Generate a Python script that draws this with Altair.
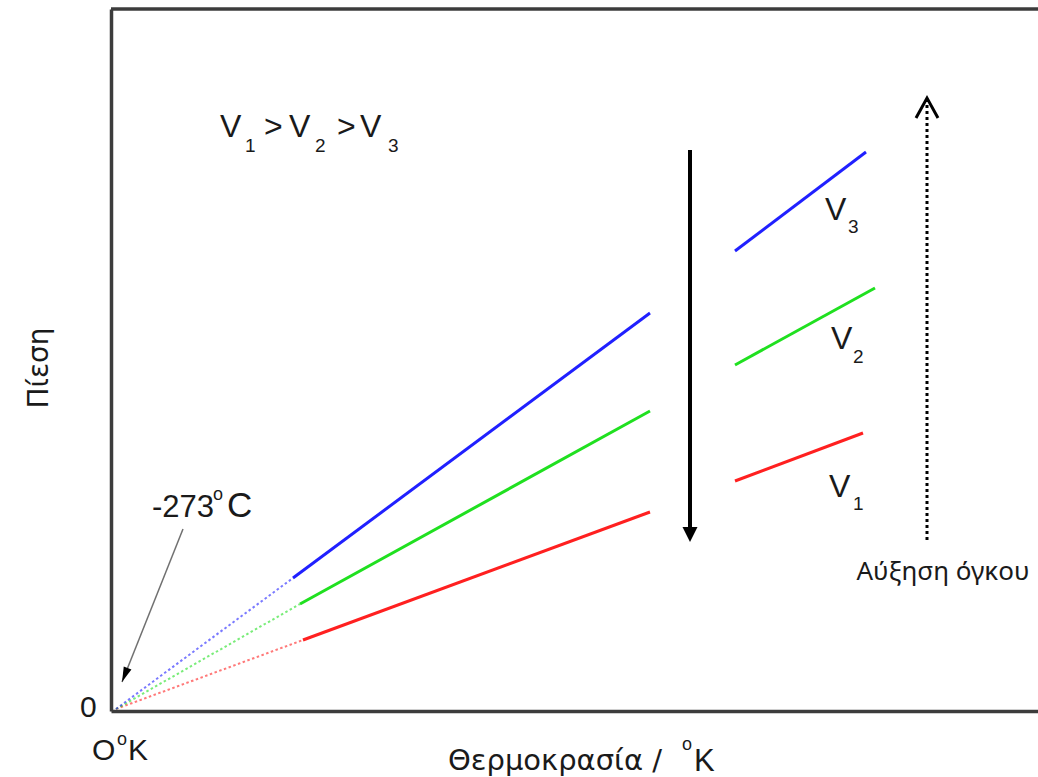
import altair as alt
import pandas as pd

# ---------------- data (temperature T from 0 K, pressure P from 0) ----------------
series = ["V1", "V2", "V3"]
colors = ["#ff2020", "#20e020", "#2020ff"]
dot_end_t = [187, 184, 177]
dot_end_p = [69, 105, 131]
seg1_end_t = [534, 534, 534]
seg1_end_p = [197, 298, 396]
seg2_start_t = [619, 619, 619]
seg2_start_p = [228, 344, 458]
seg2_end_t = [747, 759, 750]
seg2_end_p = [276, 421, 557]

# arrows
down_arrow_t = [574, 574]
down_arrow_p = [559, 180]
down_head = (574, 174.5)
up_arrow_t = [811, 811]
up_arrow_p = [169, 609]
up_head = (811, 601)
note_arrow_t = [67, 6]
note_arrow_p = [180, 27]
note_head = (8.8, 34)
note_head_angle = 201.8

# text labels: (text, T, P, size)
arial_texts = ["V", "1", ">", "V", "2", ">", "V", "3",
               "V", "3", "V", "2", "V", "1",
               "-273", "o", "C", "0", "O", "o", "K", "o", "K"]
arial_t = [104, 129, 148, 173, 199, 221, 244, 272,
           709, 732, 715, 737, 713, 737,
           36, 97, 111, -36, -24, 1, 12, 566, 578]
arial_p = [572, 557, 572, 572, 557, 572, 572, 557,
           489, 476, 360, 346, 212, 199,
           192, 209, 192, -8, -51, -36, -51, -41, -62]
arial_size = [32, 19, 32, 32, 19, 32, 32, 19,
              32, 19, 32, 19, 32, 19,
              31, 18, 35, 30, 30, 18, 30, 18, 31]

greek_title = "Θερμοκρασία /"
greek_title_pos = (332, -61)
y_title = "Πίεση"
y_title_pos = (-76, 341)
vol_label = "Αύξηση όγκου"
vol_label_pos = (827, 129)

# ---------------- tables ----------------
rows = []
for i, s in enumerate(series):
    rows += [
        dict(series=s, seg=s + "d", style="dotted", T=0, P=0),
        dict(series=s, seg=s + "d", style="dotted", T=dot_end_t[i], P=dot_end_p[i]),
        dict(series=s, seg=s + "a", style="solid", T=dot_end_t[i], P=dot_end_p[i]),
        dict(series=s, seg=s + "a", style="solid", T=seg1_end_t[i], P=seg1_end_p[i]),
        dict(series=s, seg=s + "b", style="solid", T=seg2_start_t[i], P=seg2_start_p[i]),
        dict(series=s, seg=s + "b", style="solid", T=seg2_end_t[i], P=seg2_end_p[i]),
    ]
lines = pd.DataFrame(rows)

xs = alt.Scale(domain=[-5, 922], nice=False, zero=False)
ys = alt.Scale(domain=[-2, 700], nice=False, zero=False)
cs = alt.Scale(domain=series, range=colors)

X = alt.X("T:Q", scale=xs, axis=alt.Axis(labels=False, ticks=False, grid=False, title=None,
                                          domainColor="#3c3c3c", domainWidth=3.5))
Y = alt.Y("P:Q", scale=ys, axis=alt.Axis(labels=False, ticks=False, grid=False, title=None,
                                          domainColor="#3c3c3c", domainWidth=3.5))

base = alt.Chart(lines)
dotted = base.transform_filter(alt.datum.style == "dotted").mark_line(
    strokeWidth=2, strokeDash=[2.5, 2.5], opacity=0.6).encode(
    x=X, y=Y, color=alt.Color("series:N", scale=cs, legend=None), detail="seg:N")
solid = base.transform_filter(alt.datum.style == "solid").mark_line(
    strokeWidth=3).encode(
    x=X, y=Y, color=alt.Color("series:N", scale=cs, legend=None), detail="seg:N")

top_rule = alt.Chart(pd.DataFrame({"P": [700]})).mark_rule(
    color="#3c3c3c", strokeWidth=3.5).encode(y=alt.Y("P:Q", scale=ys))

down_line = alt.Chart(pd.DataFrame({"T": down_arrow_t, "P": down_arrow_p})).mark_line(
    color="black", strokeWidth=4).encode(x=X, y=Y)
down_tri = alt.Chart(pd.DataFrame({"T": [down_head[0]], "P": [down_head[1]]})).mark_point(
    shape="M -1 -1 L 1 -1 L 0 1 Z", filled=True, color="black", size=225, opacity=1).encode(x=X, y=Y)

up_line = alt.Chart(pd.DataFrame({"T": up_arrow_t, "P": up_arrow_p})).mark_line(
    color="black", strokeWidth=3, strokeDash=[3, 3]).encode(x=X, y=Y)
up_head_m = alt.Chart(pd.DataFrame({"T": [up_head[0]], "P": [up_head[1]]})).mark_point(
    shape="M -1 0.9 L 0 -0.9 L 1 0.9", filled=False, color="black", strokeWidth=3,
    size=484, opacity=1).encode(x=X, y=Y)

note_line = alt.Chart(pd.DataFrame({"T": note_arrow_t, "P": note_arrow_p})).mark_line(
    color="#707070", strokeWidth=1.5).encode(x=X, y=Y)
note_tri = alt.Chart(pd.DataFrame({"T": [note_head[0]], "P": [note_head[1]]})).mark_point(
    shape="M 0 -1 L 0.55 1 L -0.55 1 Z", filled=True, color="black", size=225,
    angle=note_head_angle, opacity=1).encode(x=X, y=Y)

txt = pd.DataFrame({"text": arial_texts, "T": arial_t, "P": arial_p, "size": arial_size})
arial = alt.Chart(txt).mark_text(font="Liberation Sans", align="left", baseline="alphabetic",
                                 color="#1a1a1a").encode(
    x=X, y=Y, text="text:N", size=alt.Size("size:Q", scale=None))

xtitle = alt.Chart(pd.DataFrame({"text": [greek_title], "T": [greek_title_pos[0]],
                                 "P": [greek_title_pos[1]]})).mark_text(
    font="DejaVu Sans", fontSize=29, align="left", baseline="alphabetic", color="#1a1a1a").encode(
    x=X, y=Y, text="text:N")
ytitle = alt.Chart(pd.DataFrame({"text": [y_title], "T": [y_title_pos[0]],
                                 "P": [y_title_pos[1]]})).mark_text(
    font="DejaVu Sans", fontSize=28, align="center", baseline="middle", angle=270,
    color="#1a1a1a").encode(x=X, y=Y, text="text:N")
vol = alt.Chart(pd.DataFrame({"text": [vol_label], "T": [vol_label_pos[0]],
                              "P": [vol_label_pos[1]]})).mark_text(
    font="Noto Sans", fontSize=26, align="center", baseline="alphabetic", color="#1a1a1a").encode(
    x=X, y=Y, text="text:N")

chart = alt.layer(
    top_rule, dotted, solid, down_line, down_tri, up_line, up_head_m,
    note_line, note_tri, arial, xtitle, ytitle, vol
).properties(
    width=927, height=702,
    autosize=alt.AutoSizeParams(type="none"),
    padding={"left": 111, "top": 9, "right": 0, "bottom": 66},
).configure_view(stroke=None).configure(background="white")

chart.save("out.html", embed_options={"renderer": "svg", "actions": False})
